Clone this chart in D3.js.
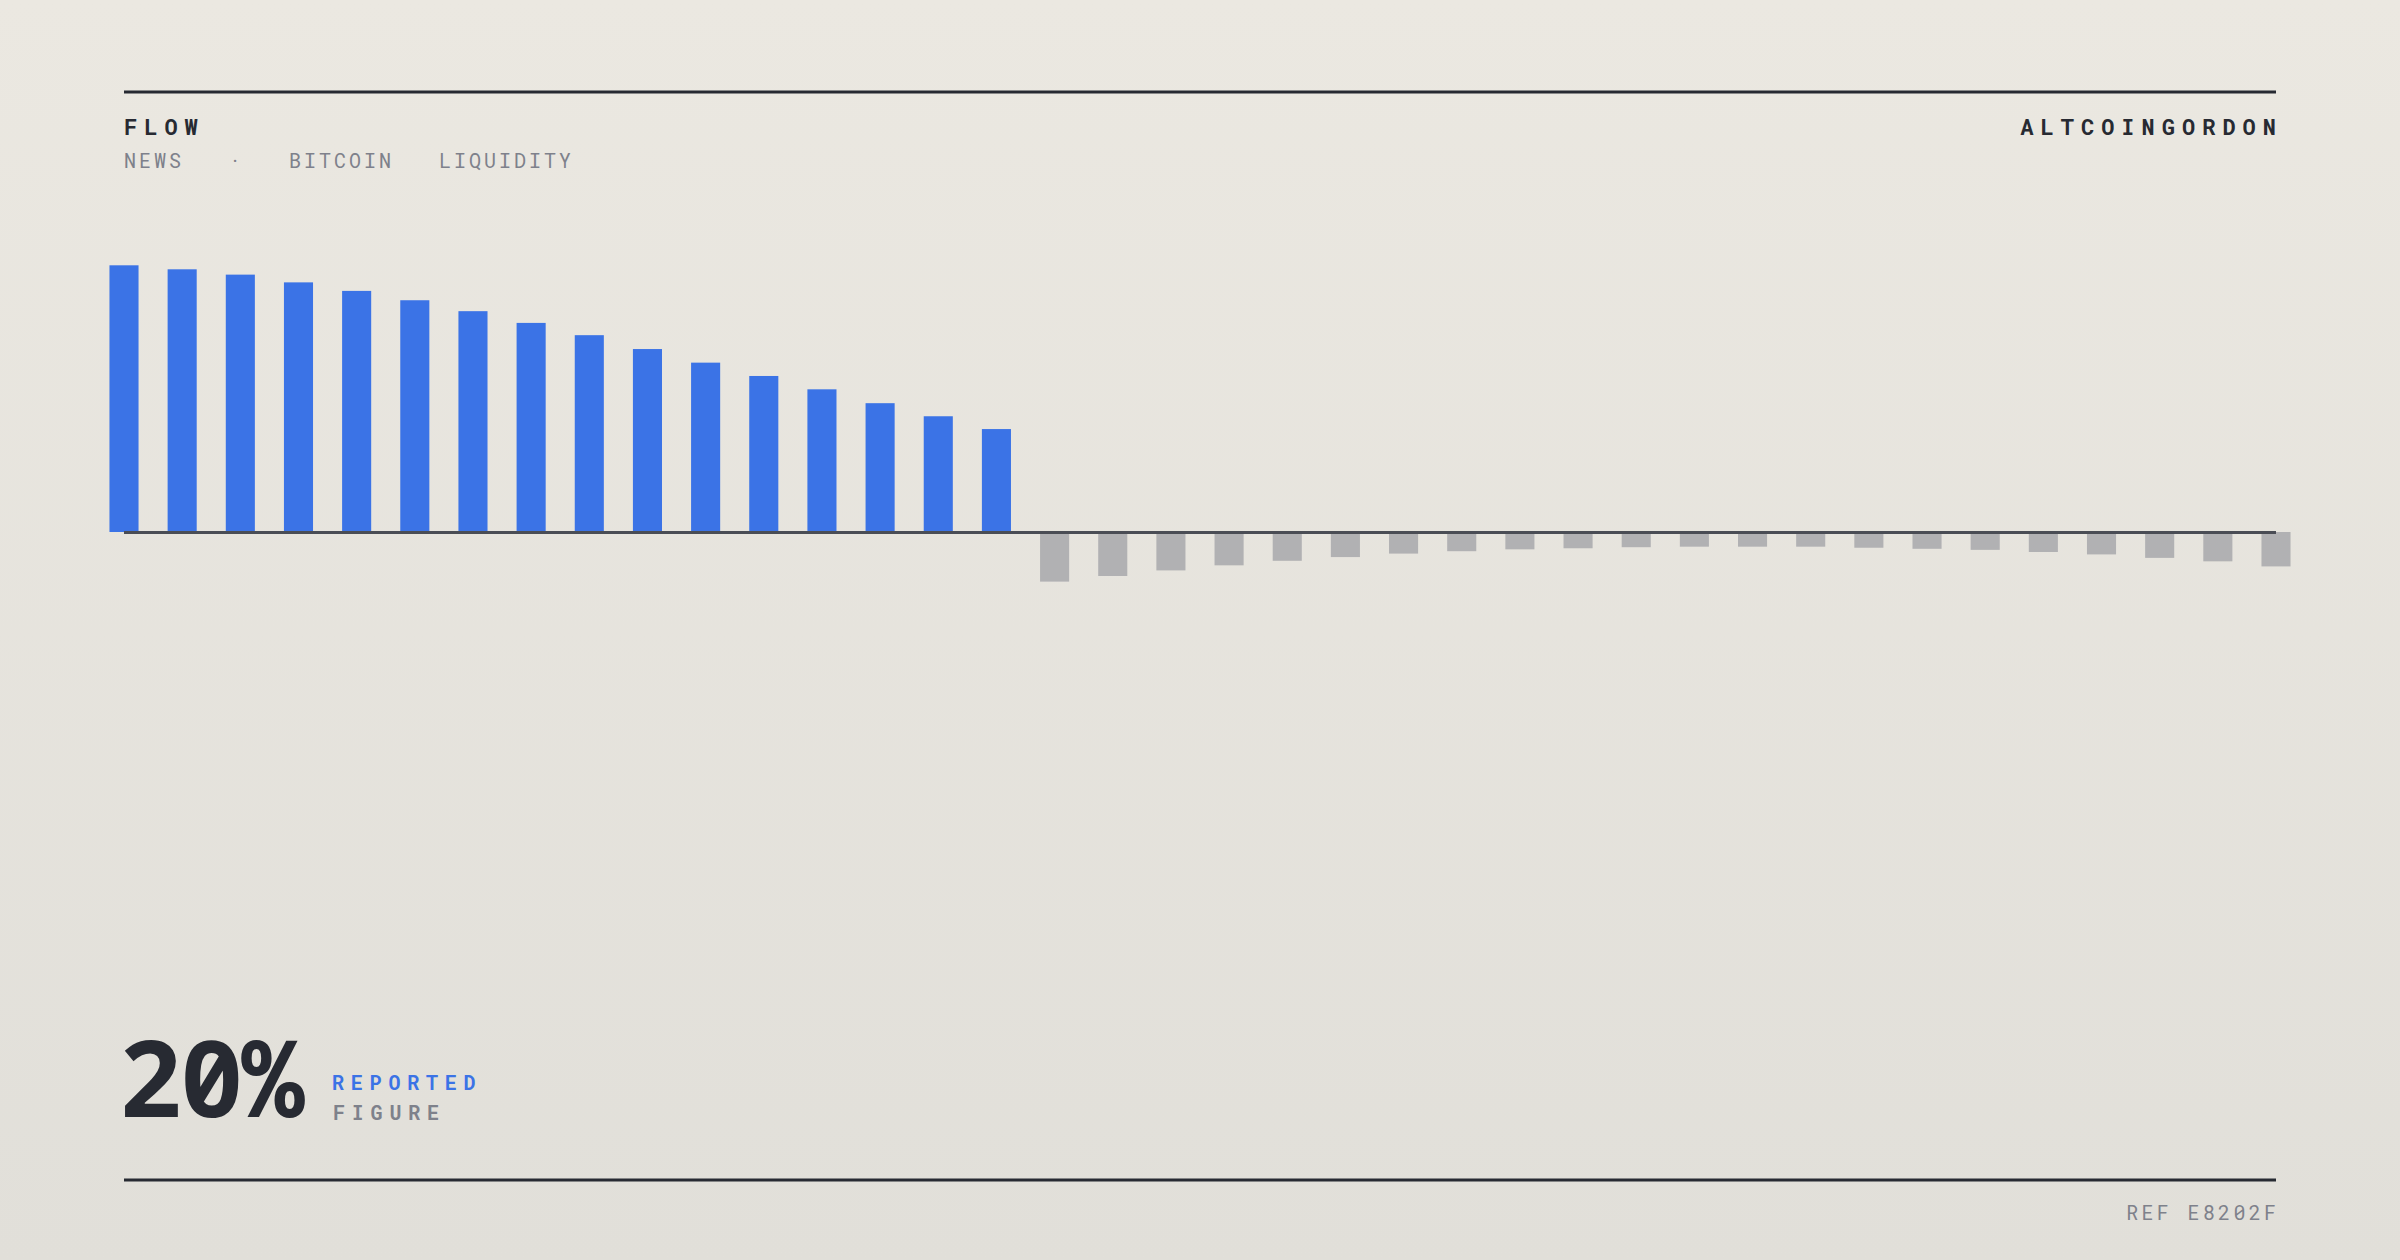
<!DOCTYPE html>
<html>
<head>
<meta charset="utf-8">
<script src="https://cdn.jsdelivr.net/npm/d3@7/dist/d3.min.js"></script>
<style>
  html, body { margin: 0; padding: 0; background: #e6e4dd; }
  svg { display: block; }
  text { white-space: pre; }
</style>
</head>
<body>
<svg id="chart" width="2400" height="1260"></svg>
<script>
// ---- data ----
const categories = d3.range(1, 39).map(i => "P" + String(i).padStart(2, "0"));
const inflowValues = [100, 98.5, 96.5, 93.6, 90.4, 86.9, 82.8, 78.4, 73.8, 68.6, 63.5, 58.5, 53.5, 48.3, 43.4, 38.6];
const outflowValues = [-18.6, -16.5, -14.4, -12.5, -10.8, -9.4, -8.1, -7.2, -6.5, -6.1, -5.7, -5.5, -5.5, -5.5, -5.9, -6.3, -6.7, -7.5, -8.4, -9.7, -11.0, -12.9];
const values = inflowValues.concat(outflowValues);
const titleText = "FLOW";
const subtitleText = "NEWS   ·   BITCOIN   LIQUIDITY";
const brandText = "ALTCOINGORDON";
const bigFigure = "20%";
const figureLabel1 = "REPORTED";
const figureLabel2 = "FIGURE";
const refText = "REF E8202F";

// ---- layout ----
const W = 2400, H = 1260;
const left = 124, right = 2276;
const svg = d3.select("#chart");

const defs = svg.append("defs");
const grad = defs.append("linearGradient").attr("id", "bg").attr("x1", 0).attr("y1", 0).attr("x2", 0).attr("y2", 1);
grad.append("stop").attr("offset", "0%").attr("stop-color", "#ebe8e1");
grad.append("stop").attr("offset", "100%").attr("stop-color", "#e1dfd9");
svg.append("rect").attr("width", W).attr("height", H).attr("fill", "url(#bg)");

const mono = "'Roboto Mono', 'Noto Sans Mono', 'DejaVu Sans Mono', monospace";
const bigMono = "'Noto Sans Mono', 'Roboto Mono', monospace";
const dark = "#272a32";
const grey = "#7e818b";
const blue = "#3b73e6";
const barGrey = "#b1b1b3";

// top rule
svg.append("line").attr("x1", left).attr("x2", right).attr("y1", 92).attr("y2", 92)
  .attr("stroke", dark).attr("stroke-width", 3);
// bottom rule
svg.append("line").attr("x1", left).attr("x2", right).attr("y1", 1180).attr("y2", 1180)
  .attr("stroke", dark).attr("stroke-width", 3);

// header texts
svg.append("text").attr("x", left).attr("y", 135).text(titleText)
  .attr("font-family", mono).attr("font-weight", 700).attr("font-size", 22)
  .attr("letter-spacing", 7).attr("fill", dark);
svg.append("text").attr("x", left).attr("y", 168).text(subtitleText)
  .attr("font-family", mono).attr("font-weight", 400).attr("font-size", 20)
  .attr("letter-spacing", 3.0).attr("fill", grey);
svg.append("text").attr("x", right + 7).attr("y", 135).attr("text-anchor", "end").text(brandText)
  .attr("font-family", mono).attr("font-weight", 700).attr("font-size", 22)
  .attr("letter-spacing", 7).attr("fill", dark);

// scales
const x = d3.scalePoint().domain(categories).range([left, right]);
const y = d3.scaleLinear().domain([-100, 100]).range([798.7, 265.3]);
const bw = x.step() * 0.5;

// bars
svg.append("g").selectAll("rect").data(values).join("rect")
  .attr("x", (d, i) => x(categories[i]) - bw / 2)
  .attr("width", bw)
  .attr("y", d => d >= 0 ? y(d) : y(0))
  .attr("height", d => Math.abs(y(d) - y(0)))
  .attr("fill", d => d >= 0 ? blue : barGrey);

// zero axis
svg.append("line").attr("x1", left).attr("x2", right).attr("y1", y(0) + 0.5).attr("y2", y(0) + 0.5)
  .attr("stroke", "#4a4d55").attr("stroke-width", 3);

// big figure
svg.append("text").attr("x", 119).attr("y", 1117).text(bigFigure)
  .attr("font-family", bigMono).attr("font-weight", 700).attr("font-size", 106)
  .attr("letter-spacing", -2.5).attr("fill", dark);
svg.append("text").attr("x", 332).attr("y", 1090).text(figureLabel1)
  .attr("font-family", mono).attr("font-weight", 700).attr("font-size", 20)
  .attr("letter-spacing", 6.8).attr("fill", blue);
svg.append("text").attr("x", 333).attr("y", 1120).text(figureLabel2)
  .attr("font-family", mono).attr("font-weight", 700).attr("font-size", 20)
  .attr("letter-spacing", 6.8).attr("fill", grey);

// footer ref
svg.append("text").attr("x", right + 3.3).attr("y", 1220).attr("text-anchor", "end").text(refText)
  .attr("font-family", mono).attr("font-weight", 400).attr("font-size", 20)
  .attr("letter-spacing", 3.3).attr("fill", grey);
</script>
</body>
</html>
